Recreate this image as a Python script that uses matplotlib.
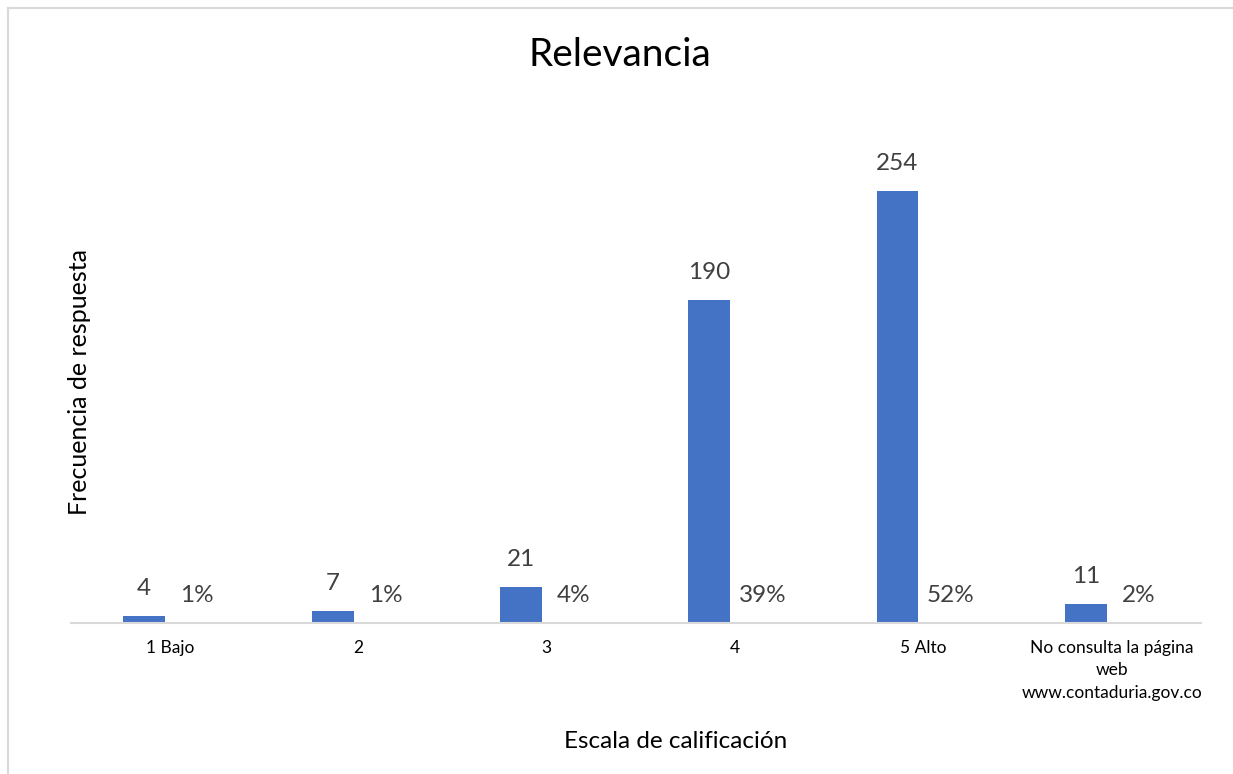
import numpy as np
import matplotlib.pyplot as plt
import matplotlib.transforms as mtransforms
from matplotlib.lines import Line2D

categories = ['1 Bajo', '2', '3', '4', '5 Alto',
              'No consulta la página\nweb\nwww.contaduria.gov.co']
counts = [4, 7, 21, 190, 254, 11]
percents = [1, 1, 4, 39, 52, 2]

blue = '#4472C4'
grey_txt = '#404040'
line_grey = '#D9D9D9'

plt.rcParams['font.family'] = ['Lato', 'DejaVu Sans']

W, H = 1233, 774
fig = plt.figure(figsize=(W / 100, H / 100), dpi=100)
ax = fig.add_axes([71 / W, 1 - 623 / H, (1201 - 71) / W, (623 - 113) / H])

x = np.arange(len(categories))
bw = 0.223
ax.bar(x - bw / 2, counts, width=bw, color=blue)
# percentage series drawn on the same axis, so it sits at the baseline
ax.bar(x + bw / 2, np.array(percents) / 100, width=bw, color=blue)

for xi, c in zip(x, counts):
    ax.annotate(str(c), (xi - bw / 2, c), xytext=(0, 20), textcoords='offset points',
                ha='center', va='center', fontsize=17.5, color=grey_txt)
for xi, p in zip(x, percents):
    ax.annotate(f'{p}%', (xi + bw / 2, p / 100), xytext=(8, 19.5), textcoords='offset points',
                ha='center', va='center', fontsize=17.5, color=grey_txt)

ax.set_xlim(-0.5, len(categories) - 0.5)
ax.set_ylim(0, 300)
ax.set_yticks([])
ax.set_xticks(x)
ax.set_xticklabels(categories, fontsize=12.5, color='black', linespacing=1.5)
ax.tick_params(axis='x', length=0, pad=12)
# excel puts the category labels a few pixels right of the centre
shift = mtransforms.ScaledTranslation(5 / 100, 0, fig.dpi_scale_trans)
for lbl in ax.get_xticklabels():
    lbl.set_transform(lbl.get_transform() + shift)
for s in ['top', 'right', 'left']:
    ax.spines[s].set_visible(False)
ax.spines['bottom'].set_color(line_grey)
ax.spines['bottom'].set_linewidth(1.5)

fig.text(620 / W, 1 - 55 / H, 'Relevancia', ha='center', va='center', fontsize=28, color='black')
fig.text(676 / W, 1 - 741 / H, 'Escala de calificación', ha='center', va='center',
         fontsize=17.5, color='black')
fig.text(80 / W, 1 - 382 / H, 'Frecuencia de respuesta', ha='center', va='center',
         rotation=90, fontsize=18, color='black')

# chart frame (only left and top edges are inside the picture)
fig.add_artist(Line2D([7.5 / W, 7.5 / W], [0, 1 - 7.5 / H], color=line_grey, lw=1.5,
                      transform=fig.transFigure))
fig.add_artist(Line2D([7.5 / W, 1], [1 - 7.5 / H, 1 - 7.5 / H], color=line_grey, lw=1.5,
                      transform=fig.transFigure))

fig.savefig('out.png', dpi=100)
